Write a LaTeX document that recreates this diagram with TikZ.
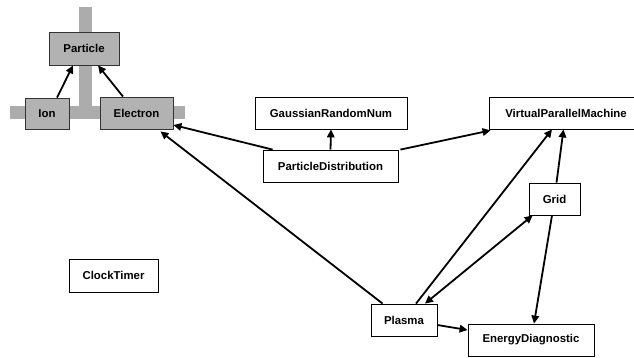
\documentclass[tikz,border=0pt]{standalone}
\usepackage{fontspec}
\setmainfont{Liberation Sans}
\usetikzlibrary{arrows.meta}
\definecolor{basegray}{RGB}{178,178,178}
\definecolor{bargray}{RGB}{172,172,172}
\begin{document}
\begin{tikzpicture}[x=1pt,y=-1pt,
  cls/.style={draw=black, line width=0.8pt, fill=white, inner sep=0pt,
    font=\fontsize{11.4}{13}\selectfont\bfseries},
  base/.style={cls, fill=basegray, draw=black!80},
  link/.style={line width=1.8pt, -{Triangle[length=8pt,width=7.5pt]}},
  both/.style={line width=1.8pt, {Triangle[length=8pt,width=7.5pt]}-{Triangle[length=8pt,width=7.5pt]}},
]
\useasboundingbox (0,0) rectangle (634,358);
\clip (0,0) rectangle (634,358);

% cross-shaped backdrop behind the class hierarchy
\fill[bargray] (79,7) rectangle (92,112);
\fill[bargray] (10,106) rectangle (185,119);

% hierarchy
\node[base, minimum width=70pt, minimum height=33pt] (particle) at (84,48.5) {Particle};
\node[base, minimum width=44pt, minimum height=31pt] (ion) at (47,113.5) {Ion};
\node[base, minimum width=73pt, minimum height=32pt] (electron) at (136.5,113) {Electron};

% other classes
\node[cls, minimum width=152pt, minimum height=32pt] (gauss) at (331,113) {GaussianRandomNum};
\node[cls, minimum width=154pt, minimum height=32pt] (vpm) at (566,113) {VirtualParallelMachine};
\node[cls, minimum width=135pt, minimum height=32pt] (pdist) at (330.5,166) {ParticleDistribution};
\node[cls, minimum width=51pt, minimum height=32pt] (grid) at (554.5,199) {Grid};
\node[cls, minimum width=66pt, minimum height=32pt] (plasma) at (404,320) {Plasma};
\node[cls, minimum width=126pt, minimum height=32pt] (energy) at (531,340) {EnergyDiagnostic};
\node[cls, minimum width=89pt, minimum height=33pt] (clock) at (113.5,275.5) {ClockTimer};

% inheritance
\draw[link] ([xshift=10pt]ion.north) -- ([xshift=-11pt]particle.south);
\draw[link] ([xshift=-13.5pt]electron.north) -- ([xshift=14pt]particle.south);

% associations
\draw[link] ([xshift=10pt]pdist.north west) -- ([yshift=-12pt]electron.east);
\draw[link] (pdist.north) -- (gauss.south);
\draw[link] ([xshift=2pt]pdist.north east) -- ([xshift=2pt,yshift=-1pt]vpm.south west);
\draw[link] ([xshift=12pt]plasma.north west) -- ([xshift=-13pt,yshift=-2pt]electron.south east);
\draw[link] ([xshift=12pt]plasma.north) -- ([xshift=-14pt]vpm.south);
\draw[link] ([xshift=2pt]grid.north) -- ([xshift=-2.5pt]vpm.south);
\draw[both] ([xshift=21pt]plasma.north) -- ([xshift=4pt]grid.south west);
\draw[link] ([xshift=-2.5pt]grid.south) -- ([xshift=3pt]energy.north);
\draw[link] ([yshift=-5pt]plasma.east) -- ([yshift=10pt]energy.west);
\end{tikzpicture}
\end{document}
